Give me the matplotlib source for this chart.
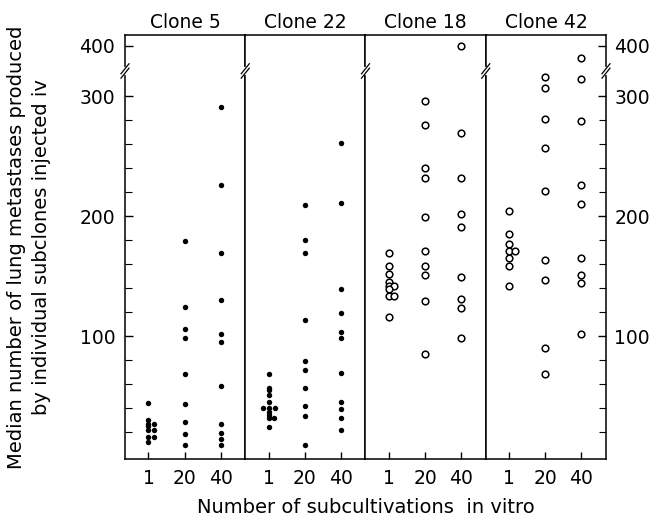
import numpy as np
import matplotlib
matplotlib.use('Agg')
import matplotlib.pyplot as plt
from matplotlib.ticker import FixedLocator

# data
passages = ['1', '20', '40']
clones = ['Clone 5', 'Clone 22', 'Clone 18', 'Clone 42']
filled = [True, True, False, False]

clone5 = [
    [44, 30, 27, 27, 25, 22, 22, 16, 16, 12],
    [179, 124, 106, 98, 68, 43, 28, 18, 9],
    [291, 226, 169, 130, 102, 95, 58, 27, 19, 14, 9],
]
clone22 = [
    [68, 57, 55, 51, 45, 40, 40, 40, 37, 34, 32, 32, 24],
    [209, 180, 169, 113, 79, 72, 57, 42, 33, 9],
    [261, 211, 139, 119, 103, 98, 69, 45, 39, 32, 22],
]
clone18 = [
    [169, 158, 152, 145, 142, 142, 139, 133, 133, 116],
    [296, 276, 240, 232, 199, 171, 158, 151, 129, 85],
    [400, 269, 232, 202, 191, 149, 131, 123, 98],
]
clone42 = [
    [204, 185, 177, 171, 171, 165, 158, 142],
    [316, 307, 281, 257, 221, 163, 147, 90, 68],
    [390, 314, 279, 226, 210, 165, 151, 144, 102],
]
all_data = [clone5, clone22, clone18, clone42]


# broken y axis: gap between ~320 and ~380
def fwd(v):
    v = np.asarray(v, float)
    return np.where(v <= 320, v, np.where(v <= 380, 320 + (v - 320) / 30, v - 58))


def inv(y):
    y = np.asarray(y, float)
    return np.where(y <= 320, y, np.where(y <= 322, 320 + (y - 320) * 30, y + 58))


def dodge(vals):
    # put identical values side by side
    offs = []
    i = 0
    while i < len(vals):
        j = i
        while j + 1 < len(vals) and vals[j + 1] == vals[i]:
            j += 1
        n = j - i + 1
        if n == 1:
            offs += [0.0]
        elif n == 2:
            offs += [0.0, 0.15]
        else:
            offs += list(np.linspace(-0.17, 0.17, n))
        i = j + 1
    return np.array(offs)


plt.rcParams['font.family'] = 'DejaVu Sans'
fig, axes = plt.subplots(1, 4, sharey=True, figsize=(6.55, 5.22), dpi=100)
fig.subplots_adjust(left=0.1908, right=0.9252, bottom=0.1207, top=0.933, wspace=0)

fs = 13.5
for k, ax in enumerate(axes):
    ax.set_yscale('function', functions=(fwd, inv))
    for c, vals in enumerate(all_data[k]):
        x = c + dodge(vals)
        if filled[k]:
            ax.plot(x, vals, 'o', color='black', markersize=3.9, markeredgewidth=0)
        else:
            ax.plot(x, vals, 'o', markerfacecolor='white', markeredgecolor='black',
                    markersize=4.8, markeredgewidth=1.1)
    ax.set_xlim(-0.65, 2.68)
    ax.set_ylim(-2.5, 409)
    ax.set_xticks([0, 1, 2])
    ax.set_xticklabels(passages, fontsize=fs)
    ax.tick_params(axis='x', direction='in', length=5, width=1, pad=7, top=False)
    ax.set_title(clones[k], fontsize=fs, pad=5)
    for s in ax.spines.values():
        s.set_linewidth(1.1)

    ax.yaxis.set_major_locator(FixedLocator([100, 200, 300, 400]))
    ax.yaxis.set_minor_locator(FixedLocator([v for v in range(20, 320, 20) if v % 100]))
    ax.yaxis.set_major_formatter(plt.FuncFormatter(lambda v, p: '%d' % round(v)))
    if k == 0:
        ax.tick_params(axis='y', which='both', direction='in', left=True, right=False,
                       labelleft=True, labelright=False, labelsize=fs, pad=7)
    elif k == 3:
        ax.tick_params(axis='y', which='both', direction='in', left=False, right=True,
                       labelleft=False, labelright=True, labelsize=fs, pad=6)
    else:
        ax.tick_params(axis='y', which='both', left=False, right=False,
                       labelleft=False, labelright=False)
    ax.tick_params(axis='y', which='major', length=6, width=1)
    ax.tick_params(axis='y', which='minor', length=5, width=0.8)

# break marks "//" on every vertical boundary
for k, ax in enumerate(axes):
    pt = ax.transData.transform((0, 350))
    yb = ax.transAxes.inverted().transform(pt)[1]
    dx = 4 / 120.0
    dy = 5 / 424.0
    g = 2.2 / 424.0
    xs = [0.0, 1.0] if k == 3 else [0.0]
    for xb in xs:
        ax.plot([xb, xb], [yb - g, yb + g], color='white', lw=3,
                transform=ax.transAxes, clip_on=False, zorder=5)
        for o in (-g, g):
            ax.plot([xb - dx, xb + dx], [yb + o - dy, yb + o + dy], color='black',
                    lw=0.9, transform=ax.transAxes, clip_on=False, zorder=6)

fig.text(0.045, 0.527,
         'Median number of lung metastases produced\nby individual subclones injected iv',
         rotation=90, ha='center', va='center', fontsize=14, linespacing=1.4,
         multialignment='center')
fig.text(0.558, 0.027, 'Number of subcultivations  in vitro', ha='center', va='center',
         fontsize=14)

plt.savefig('out.png', dpi=100)
